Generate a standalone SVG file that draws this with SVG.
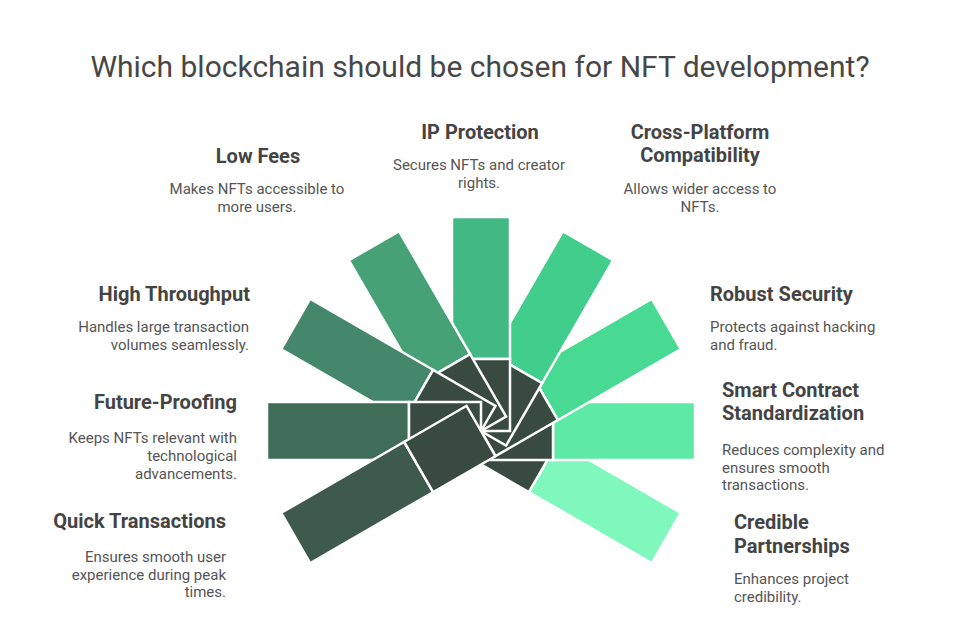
<svg xmlns="http://www.w3.org/2000/svg" width="960" height="640" viewBox="0 0 960 640">
<style>
.t{font-family:Roboto,"Liberation Sans",sans-serif;font-size:30px;fill:#474747;text-anchor:middle}
.h{font-family:Roboto,"Liberation Sans",sans-serif;font-weight:700;font-size:20px;fill:#444}
.d{font-family:Roboto,"Liberation Sans",sans-serif;font-size:15px;fill:#555}
.m{text-anchor:middle}.e{text-anchor:end}.s{text-anchor:start}
.lt{stroke:#fff;stroke-width:2.5;stroke-linejoin:miter}
.dk{fill:#394a41;stroke:#fff;stroke-width:2.5;stroke-linejoin:miter}
</style>
<rect width="960" height="640" fill="#fff"/>
<text class="t" x="480" y="77">Which blockchain should be chosen for NFT development?</text>

<g id="node-credible-partnerships">
  <g transform="translate(481,431) rotate(30)">
    <rect class="lt" x="72" y="-29" width="142" height="58" fill="#80f7bd"/>
    <polygon class="dk" points="72,-29 72,29 0,29 0,0"/>
  </g>
  <text class="h s" x="734" y="529">Credible</text>
  <text class="h s" x="734" y="553">Partnerships</text>
  <text class="d s" x="734" y="584">Enhances project</text>
  <text class="d s" x="734" y="602">credibility.</text>
</g>

<g id="node-smart-contract">
  <g transform="translate(481,431)">
    <rect class="lt" x="72" y="-29" width="142" height="58" fill="#5ee9a5"/>
    <polygon class="dk" points="72,-29 72,29 0,29 0,0"/>
  </g>
  <text class="h s" x="722" y="397">Smart Contract</text>
  <text class="h s" x="722" y="420">Standardization</text>
  <text class="d s" x="722" y="455">Reduces complexity and</text>
  <text class="d s" x="722" y="473">ensures smooth</text>
  <text class="d s" x="722" y="490">transactions.</text>
</g>

<g id="node-robust-security">
  <g transform="translate(481,431) rotate(-30)">
    <rect class="lt" x="72" y="-29" width="142" height="58" fill="#48da93"/>
    <polygon class="dk" points="72,-29 72,29 0,29 0,0"/>
  </g>
  <text class="h s" x="710" y="301">Robust Security</text>
  <text class="d s" x="710" y="332">Protects against hacking</text>
  <text class="d s" x="710" y="350">and fraud.</text>
</g>

<g id="node-cross-platform">
  <g transform="translate(481,431) rotate(-60)">
    <rect class="lt" x="72" y="-29" width="142" height="58" fill="#41cd8b"/>
    <polygon class="dk" points="72,-29 72,29 0,29 0,0"/>
  </g>
  <text class="h m" x="700" y="139">Cross-Platform</text>
  <text class="h m" x="700" y="162">Compatibility</text>
  <text class="d m" x="700" y="194">Allows wider access to</text>
  <text class="d m" x="700" y="212">NFTs.</text>
</g>

<g id="node-ip-protection">
  <g transform="translate(481,431) rotate(-90)">
    <rect class="lt" x="72" y="-29" width="142" height="58" fill="#42b984"/>
    <polygon class="dk" points="72,-29 72,29 0,29 0,0"/>
  </g>
  <text class="h m" x="480" y="139">IP Protection</text>
  <text class="d m" x="479" y="170">Secures NFTs and creator</text>
  <text class="d m" x="479" y="188">rights.</text>
</g>

<g id="node-low-fees">
  <g transform="translate(481,431) rotate(-120)">
    <rect class="lt" x="72" y="-29" width="142" height="58" fill="#46a177"/>
    <polygon class="dk" points="72,-29 72,29 0,29 0,0"/>
  </g>
  <text class="h m" x="258" y="163">Low Fees</text>
  <text class="d m" x="257" y="194">Makes NFTs accessible to</text>
  <text class="d m" x="257" y="212">more users.</text>
</g>

<g id="node-high-throughput">
  <g transform="translate(481,431) rotate(-150)">
    <rect class="lt" x="72" y="-29" width="142" height="58" fill="#44876a"/>
    <polygon class="dk" points="72,-29 72,29 0,29 0,0"/>
  </g>
  <text class="h e" x="250" y="301">High Throughput</text>
  <text class="d e" x="249" y="332">Handles large transaction</text>
  <text class="d e" x="249" y="350">volumes seamlessly.</text>
</g>

<g id="node-future-proofing">
  <g transform="translate(481,431) rotate(-180)">
    <rect class="lt" x="72" y="-29" width="142" height="58" fill="#3f6d58"/>
    <polygon class="dk" points="72,-29 72,29 0,29 0,0"/>
  </g>
  <text class="h e" x="237" y="409">Future-Proofing</text>
  <text class="d e" x="237" y="443">Keeps NFTs relevant with</text>
  <text class="d e" x="237" y="461">technological</text>
  <text class="d e" x="237" y="479">advancements.</text>
</g>

<g id="node-quick-transactions">
  <g transform="translate(481,431) rotate(-210)">
    <rect class="lt" x="72" y="-29" width="142" height="58" fill="#3d5a4c"/>
    <polygon class="dk" points="72,-29 72,29 0,29 0,-29"/>
  </g>
  <text class="h e" x="226" y="528">Quick Transactions</text>
  <text class="d e" x="226" y="562">Ensures smooth user</text>
  <text class="d e" x="226" y="580">experience during peak</text>
  <text class="d e" x="226" y="597">times.</text>
</g>
</svg>
